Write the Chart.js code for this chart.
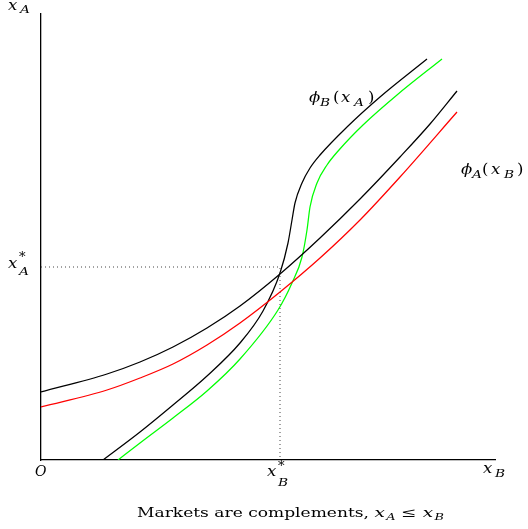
<!DOCTYPE html>
<html>
<head>
<meta charset="utf-8">
<script src="https://cdn.jsdelivr.net/npm/chart.js@4/dist/chart.umd.min.js"></script>
<style>
  html, body { margin: 0; padding: 0; background: #fff; }
  #wrap { width: 528px; height: 529px; position: relative; }
</style>
</head>
<body>
<div id="wrap"><canvas id="c" width="528" height="529"></canvas></div>
<script>
// Best responses (reaction curves) of firm A and firm B, in plot units.
// phi_A(x_B): x_A as a function of x_B, shown in two cases (black and red)
const phiA1_x = [0, 66, 99, 132, 166, 199, 239, 279, 319, 359, 389, 416];
const phiA1_y = [68, 86, 98, 113, 132, 154, 186, 222, 261, 303, 336, 369];

const phiA2_x = [0, 66, 99, 132, 166, 199, 239, 279, 319, 359, 416];
const phiA2_y = [53, 70, 82, 96, 115, 137, 168, 202, 240, 283, 348];

// phi_B(x_A): drawn in the same axes, in two cases (black and green)
const phiB1_x = [62, 99, 132, 166, 199, 222, 239, 247, 251, 254, 261, 269, 279, 306, 339, 386];
const phiB1_y = [0, 28, 55, 84, 117, 149, 187, 217, 240, 257, 277, 292, 305, 333, 363, 401];

const phiB2_x = [77, 99, 132, 166, 199, 237, 251, 261, 266, 269, 276, 286, 298, 322, 356, 401];
const phiB2_y = [0, 17, 42, 69, 101, 150, 177, 203, 230, 253, 277, 295, 310, 335, 365, 401];

// Equilibrium (x_B*, x_A*)
const eqX = 239;
const eqY = 193;

const xMax = 454;
const yMax = 446;

const zip = (xs, ys) => xs.map((x, i) => ({ x: x, y: ys[i] }));

function curve(xs, ys, color) {
  return {
    data: zip(xs, ys),
    borderColor: color,
    borderWidth: 1.25,
    pointRadius: 0,
    fill: false,
    cubicInterpolationMode: 'monotone'
  };
}

const FAMILY = '"DejaVu Serif", "Liberation Serif", serif';
const it = (px) => 'italic ' + px + 'px ' + FAMILY;
const rm = (px) => px + 'px ' + FAMILY;

// One glyph group at a fixed spot, optionally stretched horizontally
function put(ctx, t, font, x, y, sx) {
  ctx.save();
  ctx.font = font;
  ctx.translate(x, y);
  ctx.scale(sx || 1, 1);
  ctx.fillText(t, 0, 0);
  ctx.restore();
}

const labels = {
  id: 'labels',
  afterDraw(chart) {
    const ctx = chart.ctx;
    const sx = chart.scales.x, sy = chart.scales.y;
    ctx.save();
    ctx.fillStyle = '#000';
    ctx.textBaseline = 'alphabetic';
    ctx.textAlign = 'left';

    // axis names
    put(ctx, 'x', it(15), 8, 10, 1.1);
    put(ctx, 'A', it(11), 20, 13, 1.25);
    put(ctx, 'x', it(15), 483, 473, 1.1);
    put(ctx, 'B', it(11), 495, 477, 1.25);
    put(ctx, 'O', it(14), 35, 476, 1.0);

    // equilibrium labels
    const ya = sy.getPixelForValue(eqY);
    put(ctx, 'x', it(15), 8, ya + 1, 1.1);
    put(ctx, '*', rm(12), 19, ya - 6, 1.1);
    put(ctx, 'A', it(11), 19, ya + 8, 1.25);
    const xb = sx.getPixelForValue(eqX);
    put(ctx, 'x', it(15), xb - 13, 476, 1.1);
    put(ctx, '*', rm(12), xb - 2, 470, 1.1);
    put(ctx, 'B', it(11), xb - 2, 486, 1.25);

    // curve names
    put(ctx, '\u03D5', it(15), 309, 102, 1.1);
    put(ctx, 'B', it(11), 320, 106, 1.25);
    put(ctx, '(', rm(15), 333, 102, 1.1);
    put(ctx, 'x', it(15), 341, 102, 1.1);
    put(ctx, 'A', it(11), 354, 106, 1.25);
    put(ctx, ')', rm(15), 368, 102, 1.1);

    put(ctx, '\u03D5', it(15), 461, 174, 1.1);
    put(ctx, 'A', it(11), 472, 178, 1.25);
    put(ctx, '(', rm(15), 482, 174, 1.1);
    put(ctx, 'x', it(15), 491, 174, 1.1);
    put(ctx, 'B', it(11), 504, 178, 1.25);
    put(ctx, ')', rm(15), 517, 174, 1.1);

    // caption, stretched to its line width
    const parts = [
      { t: 'Markets are complements, ', f: rm(12), dy: 0, gap: 0 },
      { t: 'x', f: it(13), dy: 0, gap: 0 },
      { t: 'A', f: it(9), dy: 3, gap: 1 },
      { t: ' \u2264 ', f: rm(13), dy: 0, gap: 0 },
      { t: 'x', f: it(13), dy: 0, gap: 0 },
      { t: 'B', f: it(9), dy: 3, gap: 1 }
    ];
    let w = 0;
    parts.forEach(p => { ctx.font = p.f; w += p.gap + ctx.measureText(p.t).width; });
    const left = 137, right = 444, base = 517;
    const k = (right - left) / w;
    ctx.save();
    ctx.translate(left, base);
    ctx.scale(k, 1);
    let cx = 0;
    parts.forEach(p => {
      ctx.font = p.f;
      cx += p.gap;
      ctx.fillText(p.t, cx, p.dy);
      cx += ctx.measureText(p.t).width;
    });
    ctx.restore();

    ctx.restore();
  }
};

new Chart(document.getElementById('c'), {
  type: 'line',
  data: {
    datasets: [
      {
        data: [{ x: 0, y: eqY }, { x: eqX, y: eqY }, { x: eqX, y: 0 }],
        borderColor: '#444',
        borderWidth: 1,
        borderDash: [1, 3],
        pointRadius: 0,
        fill: false,
        tension: 0
      },
      curve(phiA1_x, phiA1_y, '#000000'),
      curve(phiA2_x, phiA2_y, '#ff0000'),
      curve(phiB1_x, phiB1_y, '#000000'),
      curve(phiB2_x, phiB2_y, '#00ff00')
    ]
  },
  options: {
    responsive: false,
    animation: false,
    devicePixelRatio: 1,
    layout: { padding: { top: 14, right: 33, left: 0, bottom: 0 } },
    plugins: { legend: { display: false }, tooltip: { enabled: false } },
    scales: {
      x: {
        type: 'linear', min: 0, max: xMax,
        grid: { display: false, drawTicks: false },
        border: { display: true, color: '#000', width: 1.3 },
        ticks: { display: false },
        afterFit: (s) => { s.height = 69; }
      },
      y: {
        type: 'linear', min: 0, max: yMax,
        grid: { display: false, drawTicks: false },
        border: { display: true, color: '#000', width: 1.3 },
        ticks: { display: false },
        afterFit: (s) => { s.width = 41; }
      }
    }
  },
  plugins: [labels]
});
</script>
</body>
</html>
